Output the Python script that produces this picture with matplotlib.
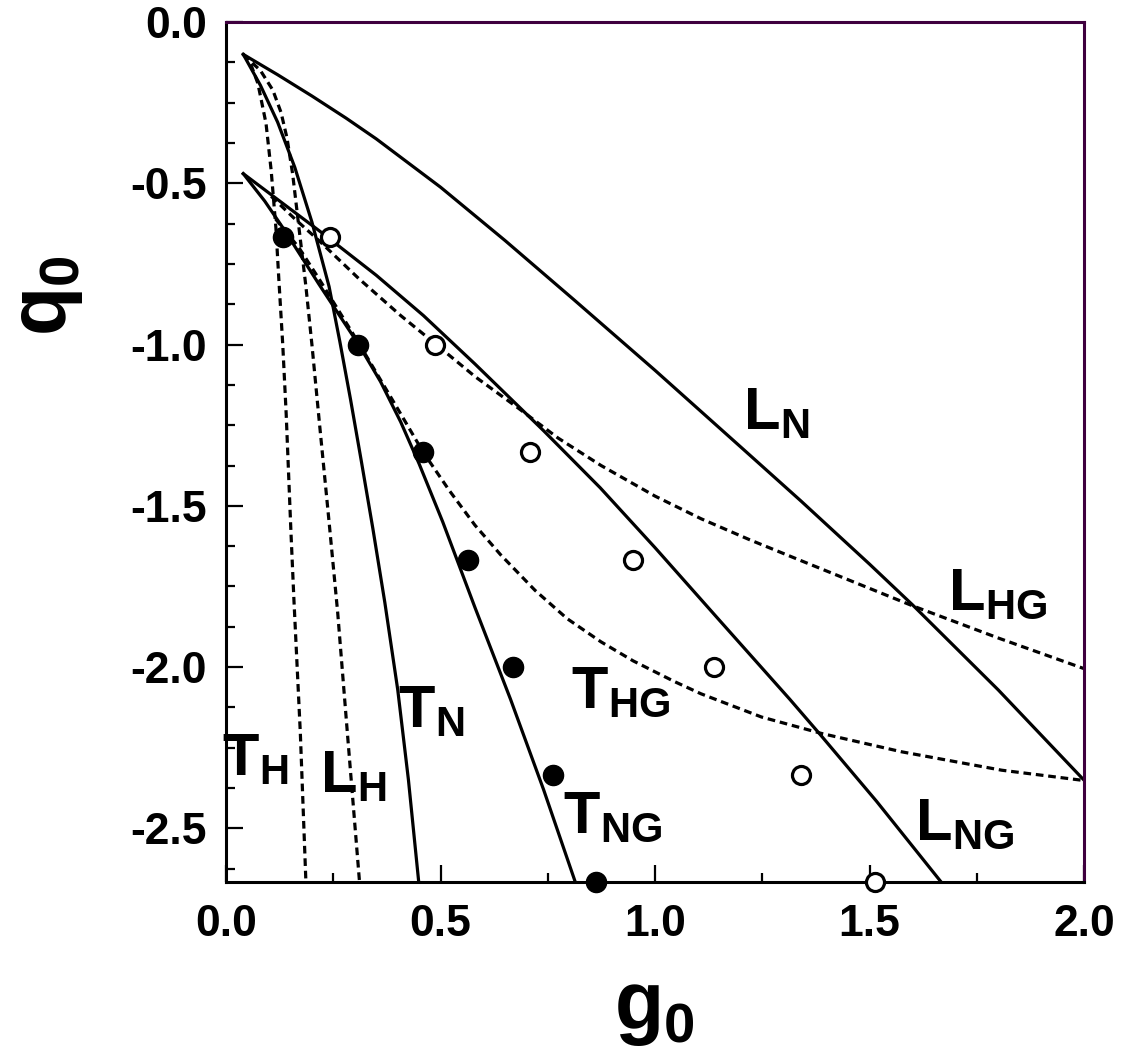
import numpy as np
import matplotlib.pyplot as plt

plt.rcParams['font.family'] = ['Liberation Sans', 'DejaVu Sans']
plt.rcParams['font.weight'] = 'bold'
plt.rcParams['axes.unicode_minus'] = False
plt.rcParams['mathtext.fontset'] = 'custom'
plt.rcParams['mathtext.rm'] = 'Liberation Sans:bold'
plt.rcParams['mathtext.bf'] = 'Liberation Sans:bold'

# boundary curves (g0, q0)
ln_g = [0.04, 0.12, 0.2, 0.28, 0.35, 0.5, 0.65, 0.81, 1.0, 1.2, 1.34, 1.5, 1.6, 1.8, 2.0]
ln_q = [-0.10, -0.163, -0.229, -0.298, -0.362, -0.512, -0.677, -0.860, -1.080, -1.318, -1.485, -1.681, -1.807, -2.071, -2.351]

tn_g = [0.04, 0.08, 0.12, 0.16, 0.20, 0.24, 0.265, 0.29, 0.315, 0.342, 0.37, 0.40, 0.425, 0.449]
tn_q = [-0.10, -0.196, -0.31, -0.45, -0.62, -0.82, -0.99, -1.17, -1.36, -1.57, -1.80, -2.07, -2.35, -2.667]

th_g = [0.04, 0.056, 0.074, 0.093, 0.105, 0.116, 0.123, 0.132, 0.140, 0.151, 0.158, 0.173, 0.186]
th_q = [-0.10, -0.125, -0.19, -0.314, -0.46, -0.637, -0.80, -1.0, -1.215, -1.578, -1.79, -2.205, -2.667]

lh_g = [0.04, 0.08, 0.109, 0.128, 0.142, 0.155, 0.170, 0.186, 0.200, 0.218, 0.240, 0.260, 0.283, 0.311]
lh_q = [-0.10, -0.15, -0.211, -0.28, -0.36, -0.47, -0.64, -0.82, -1.0, -1.25, -1.55, -1.83, -2.21, -2.667]

tng_g = [0.04, 0.09, 0.135, 0.216, 0.309, 0.36, 0.407, 0.45, 0.505, 0.58, 0.663, 0.74, 0.814]
tng_q = [-0.47, -0.555, -0.643, -0.812, -1.0, -1.115, -1.24, -1.37, -1.55, -1.815, -2.10, -2.38, -2.667]

lng_g = [0.04, 0.13, 0.22, 0.35, 0.46, 0.58, 0.74, 0.872, 1.0, 1.15, 1.314, 1.384, 1.516, 1.667]
lng_q = [-0.47, -0.56, -0.65, -0.785, -0.91, -1.06, -1.267, -1.444, -1.63, -1.855, -2.10, -2.208, -2.416, -2.667]

lhg_g = [0.105, 0.16, 0.216, 0.309, 0.407, 0.49, 0.581, 0.679, 0.774, 0.874, 1.0, 1.107, 1.22, 1.34, 1.6, 1.8, 2.0]
lhg_q = [-0.54, -0.61, -0.677, -0.795, -0.91, -1.0, -1.1, -1.195, -1.29, -1.375, -1.47, -1.54, -1.605, -1.67, -1.81, -1.91, -2.005]

thg_g = [0.115, 0.17, 0.216, 0.309, 0.407, 0.46, 0.52, 0.58, 0.64, 0.72, 0.795, 0.874, 0.949, 1.045,
         1.107, 1.248, 1.388, 1.575, 1.808, 2.0]
thg_q = [-0.61, -0.70, -0.795, -0.995, -1.215, -1.335, -1.452, -1.56, -1.652, -1.762, -1.85, -1.922, -1.981, -2.045,
         -2.083, -2.155, -2.206, -2.263, -2.320, -2.352]

# data points
q_pts = [-2/3, -1.0, -4/3, -5/3, -2.0, -7/3, -8/3]
filled_g = [0.133, 0.308, 0.460, 0.563, 0.668, 0.762, 0.862]
open_g = [0.242, 0.488, 0.708, 0.949, 1.138, 1.339, 1.512]

# region labels: (text, g0, q0)
labels = [
    (r'$\mathbf{L}_\mathbf{N}$', 1.205, -1.262),
    (r'$\mathbf{L}_\mathbf{HG}$', 1.684, -1.825),
    (r'$\mathbf{T}_\mathbf{HG}$', 0.804, -2.128),
    (r'$\mathbf{T}_\mathbf{N}$', 0.400, -2.186),
    (r'$\mathbf{T}_\mathbf{H}$', -0.01, -2.335),
    (r'$\mathbf{L}_\mathbf{H}$', 0.220, -2.388),
    (r'$\mathbf{T}_\mathbf{NG}$', 0.785, -2.514),
    (r'$\mathbf{L}_\mathbf{NG}$', 1.605, -2.536),
]

fig = plt.figure(figsize=(11.25, 10.55), dpi=100)
ax = fig.add_axes([0.201, 0.164, 0.7626, 0.815])

lw = 2.3
dash = (0, (2.4, 1.5))
for g, q in [(ln_g, ln_q), (tn_g, tn_q), (tng_g, tng_q), (lng_g, lng_q)]:
    ax.plot(g, q, color='black', lw=lw, solid_joinstyle='round')
for g, q in [(th_g, th_q), (lh_g, lh_q), (lhg_g, lhg_q), (thg_g, thg_q)]:
    ax.plot(g, q, color='black', lw=lw, linestyle=dash)

ax.plot(filled_g, q_pts, 'o', color='black', ms=14.5, clip_on=False, zorder=5)
ax.plot(open_g, q_pts, 'o', mfc='white', mec='black', mew=2.3, ms=13, clip_on=False, zorder=5)

for txt, g, q in labels:
    ax.text(g, q, txt, fontsize=43, ha='left', va='baseline')

ax.set_xlim(0, 2.0)
ax.set_ylim(-8/3, 0)
ax.set_xticks([0.0, 0.5, 1.0, 1.5, 2.0])
ax.set_xticklabels(['0.0', '0.5', '1.0', '1.5', '2.0'])
ax.set_xticks(np.arange(0, 2.01, 0.25), minor=True)
ax.set_yticks([0.0, -0.5, -1.0, -1.5, -2.0, -2.5])
ax.set_yticklabels(['0.0', '-0.5', '-1.0', '-1.5', '-2.0', '-2.5'])
ax.set_yticks(np.arange(0, -2.67, -0.125), minor=True)
ax.tick_params(which='both', direction='in', width=1.6, labelsize=32, top=False, right=False)
ax.tick_params(which='major', length=12)
ax.tick_params(which='minor', length=6.5)
ax.tick_params(axis='x', pad=16)
ax.tick_params(axis='y', pad=14)

for s in ['left', 'bottom']:
    ax.spines[s].set_color('black')
    ax.spines[s].set_linewidth(2.2)
for s in ['top', 'right']:
    ax.spines[s].set_color('#3f003f')
    ax.spines[s].set_linewidth(2.2)

fig.text(0.582, 0.025, r'$\mathbf{g}_\mathbf{0}$', fontsize=58, ha='center', va='baseline')
fig.text(0.042, 0.72, r'$\mathbf{q}_\mathbf{0}$', fontsize=58, ha='center', va='center', rotation=90)

fig.savefig('out.png', dpi=100)
